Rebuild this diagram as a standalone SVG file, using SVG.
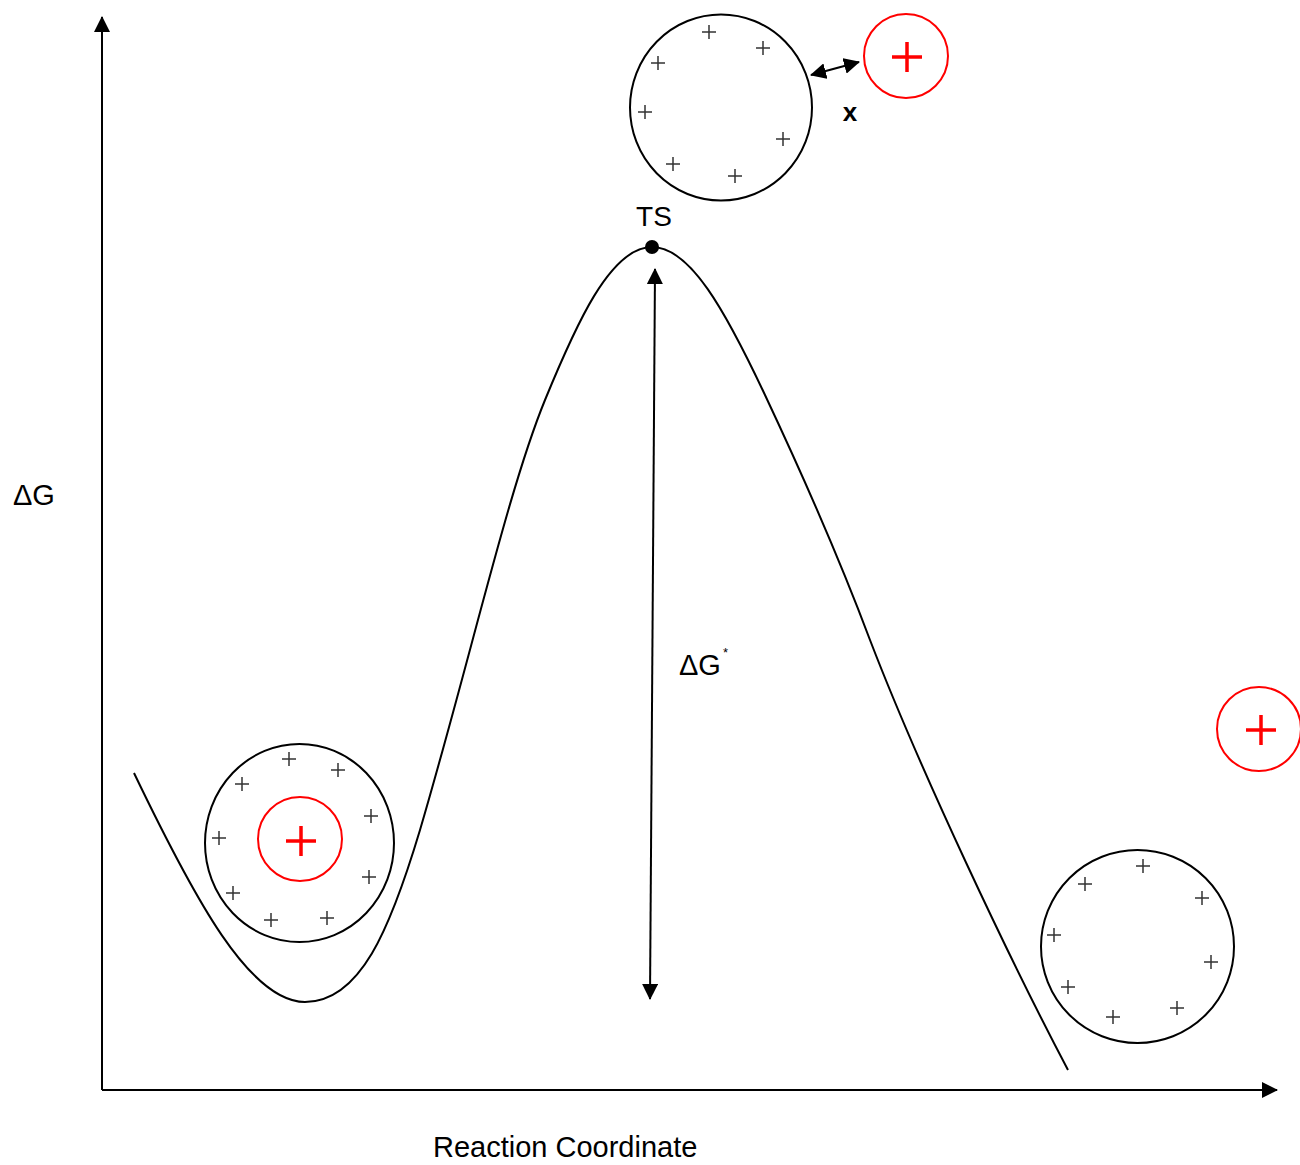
<svg xmlns="http://www.w3.org/2000/svg" width="1300" height="1165" viewBox="0 0 1300 1165">
<style>
.ring{fill:none;stroke:#000;stroke-width:2}
.ion{fill:none;stroke:#f00;stroke-width:2}
.ionp{stroke:#f00;stroke-width:3.5}
.p{stroke:#333;stroke-width:1.5}
.ln{fill:none;stroke:#000;stroke-width:2}
text{font-family:"Liberation Sans",Arial,sans-serif;fill:#000}
</style>
<defs>
<marker id="ahb" markerWidth="16" markerHeight="16" refX="15" refY="8" orient="auto-start-reverse" markerUnits="userSpaceOnUse" viewBox="0 0 16 16">
<path d="M0,0 L16,8 L0,16 Z" fill="#000"/>
</marker>
<g id="plus"><path class="p" d="M-7,0 H7 M0,-7 V7"/></g>
<g id="rplus"><path class="ionp" d="M-15,0 H15 M0,-15 V15"/></g>
</defs>

<g id="connectors">
<path class="ln" d="M102,1090 V17" marker-end="url(#ahb)"/>
<path class="ln" d="M102,1090 H1277" marker-end="url(#ahb)"/>
<path class="ln" d="M134,773 C195,900 250,1002 305,1002 C360,1002 390,930 420,830 C470,660 508,490 545,400 C575,327 610,247 652,247 C690,247 725,310 765,395 C805,480 840,560 870,640 C920,770 1010,960 1068,1070"/>
<path class="ln" d="M655,269 L650,999" marker-start="url(#ahb)" marker-end="url(#ahb)"/>
<path class="ln" d="M811,75 L859,62" marker-start="url(#ahb)" marker-end="url(#ahb)"/>
</g>

<g id="axis-labels">
<text x="13" y="505" font-size="29">ΔG</text>
<text x="433" y="1157" font-size="29">Reaction Coordinate</text>
<text x="679" y="675" font-size="29">ΔG</text>
<text x="723" y="657" font-size="13">*</text>
</g>

<g id="ts">
<circle cx="652" cy="247" r="7" fill="#000"/>
<text x="654" y="226" font-size="28" text-anchor="middle">TS</text>
</g>

<g id="ts-cluster">
<ellipse class="ring" cx="721" cy="107.5" rx="91" ry="93"/>
<use href="#plus" x="709" y="32"/>
<use href="#plus" x="763" y="48"/>
<use href="#plus" x="658" y="63"/>
<use href="#plus" x="645" y="112"/>
<use href="#plus" x="783" y="139"/>
<use href="#plus" x="673" y="164"/>
<use href="#plus" x="735" y="176"/>
</g>

<g id="ts-ion">
<circle class="ion" cx="906" cy="56" r="42"/>
<use href="#rplus" x="907" y="57"/>
</g>

<g id="x-label">
<text x="850" y="121" font-size="26" font-weight="bold" text-anchor="middle">x</text>
</g>

<g id="reactant">
<ellipse class="ring" cx="299.5" cy="843" rx="94.5" ry="99"/>
<use href="#plus" x="289" y="759"/>
<use href="#plus" x="338" y="770"/>
<use href="#plus" x="242" y="784"/>
<use href="#plus" x="371" y="816"/>
<use href="#plus" x="219" y="838"/>
<use href="#plus" x="369" y="877"/>
<use href="#plus" x="233" y="893"/>
<use href="#plus" x="271" y="920"/>
<use href="#plus" x="327" y="918"/>
<circle class="ion" cx="300" cy="839" r="42"/>
<use href="#rplus" x="301" y="841"/>
</g>

<g id="product">
<circle class="ring" cx="1137.5" cy="946.5" r="96.5"/>
<use href="#plus" x="1143" y="866"/>
<use href="#plus" x="1085" y="884"/>
<use href="#plus" x="1202" y="898"/>
<use href="#plus" x="1054" y="935"/>
<use href="#plus" x="1211" y="962"/>
<use href="#plus" x="1068" y="987"/>
<use href="#plus" x="1177" y="1008"/>
<use href="#plus" x="1113" y="1017"/>
</g>

<g id="free-ion">
<circle class="ion" cx="1259" cy="729" r="42"/>
<use href="#rplus" x="1261" y="730"/>
</g>
</svg>
